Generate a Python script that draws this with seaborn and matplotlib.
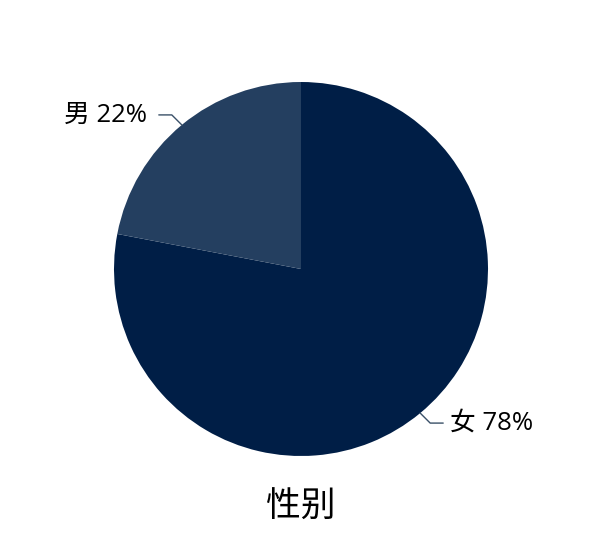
import numpy as np
import matplotlib
matplotlib.use("Agg")
import matplotlib.pyplot as plt
import seaborn as sns

categories = ["女", "男"]
values = [78, 22]
colors = ["#001e46", "#243f60"]
title = "性别"

sns.set_theme(style="white")
plt.rcParams['font.family'] = ['Noto Sans CJK SC', 'DejaVu Sans']

fig = plt.figure(figsize=(5.99, 5.55), dpi=100)
cx, cy, r = 301, 269, 187
W, H = 599, 555
ax = fig.add_axes([(cx - r) / W, (H - cy - r) / H, 2 * r / W, 2 * r / H])
wedges, _ = ax.pie(values, colors=colors, startangle=90, counterclock=False,
                   radius=1, wedgeprops=dict(linewidth=0))
ax.set_xlim(-1, 1)
ax.set_ylim(-1, 1)
ax.set_aspect('equal')
ax.axis('off')

px = 2 / (2 * r)
for w, cat, val in zip(wedges, categories, values):
    ang = np.deg2rad((w.theta1 + w.theta2) / 2)
    x0, y0 = np.cos(ang), np.sin(ang)
    sx = np.sign(x0)
    sy = np.sign(y0)
    x1, y1 = x0 + sx * 10 * px, y0 + sy * 10 * px
    x2 = x1 + sx * 13 * px
    ax.plot([x0, x1, x2], [y0, y1, y1], color="#3a5068", lw=1, clip_on=False)
    gap = 7 if sx > 0 else 12
    ax.text(x2 + sx * gap * px, y1, f"{cat} {val}%", ha="left" if sx > 0 else "right",
            va="center", fontsize=18.5, color="black", clip_on=False,
            family=['Open Sans', 'Noto Sans CJK SC'])

fig.text(cx / W, 1 - 507 / H, title, ha="center", va="center", fontsize=25, color="black")
fig.savefig("out.png", dpi=100, facecolor="white")
